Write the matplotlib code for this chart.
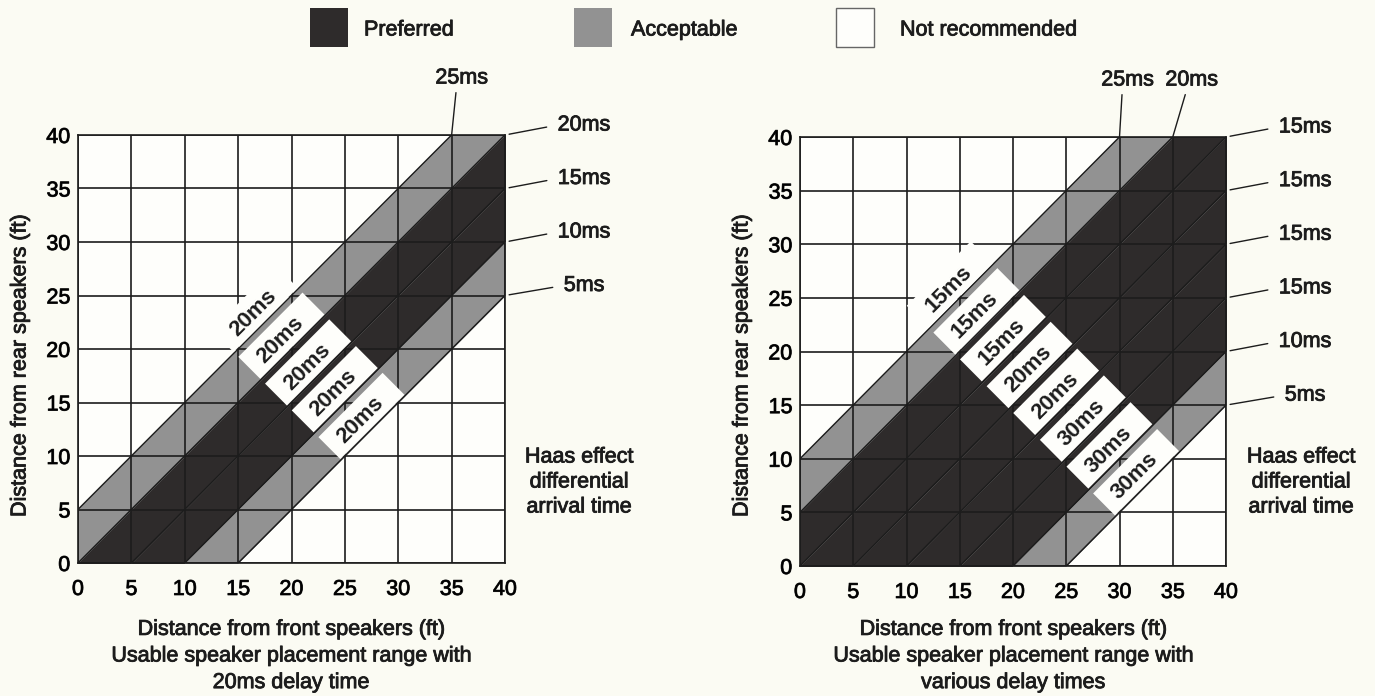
"""Haas effect speaker placement chart: two panels with diagonal delay bands."""

import numpy as np
import matplotlib

matplotlib.use("Agg")
import matplotlib.pyplot as plt
import matplotlib.patheffects as pe
from matplotlib.patches import Polygon, Rectangle

# --- data ------------------------------------------------------------------
ticks = [0, 5, 10, 15, 20, 25, 30, 35, 40]

# boundary lines y = x + c (ft), listed from upper-left to lower-right
left_offsets = [5, 0, -5, -10, -15]
left_bands = ["Acceptable", "Preferred", "Preferred", "Acceptable"]
left_edge_labels = ["25ms", "20ms", "15ms", "10ms", "5ms"]
left_stack_labels = ["20ms", "20ms", "20ms", "20ms", "20ms"]

right_offsets = [10, 5, 0, -5, -10, -15, -20, -25]
right_bands = ["Acceptable", "Preferred", "Preferred", "Preferred",
               "Preferred", "Preferred", "Acceptable"]
right_edge_labels = ["25ms", "20ms", "15ms", "15ms", "15ms", "15ms", "10ms", "5ms"]
right_stack_labels = ["15ms", "15ms", "15ms", "20ms", "20ms", "30ms", "30ms", "30ms"]

left_caption = "Distance from front speakers (ft)\nUsable speaker placement range with\n20ms delay time"
right_caption = "Distance from front speakers (ft)\nUsable speaker placement range with\nvarious delay times"
ylabel = "Distance from rear speakers (ft)"
side_note = "Haas effect\ndifferential\narrival time"

legend_labels = ["Preferred", "Acceptable", "Not recommended"]

# --- style -----------------------------------------------------------------
W, H = 1375, 696
BG = "#FBFBF3"
INK = "#1c1c1c"
FILL = {"Preferred": "#2e2b2b", "Acceptable": "#929292", "Not recommended": "#FEFEFB"}
FS = 15.5
HEAVY = [pe.withStroke(linewidth=0.6, foreground=INK)]

plt.rcParams["font.family"] = ["Liberation Sans", "DejaVu Sans"]


def fx(px):
    return px / W


def fy(py):
    return 1 - py / H


def draw_panel(ax, offsets, bands, edge_labels, stack_labels, top_dx):
    ax.set_xlim(0, 40)
    ax.set_ylim(0, 40)
    ax.set_facecolor("#FEFEFB")
    ax.set_xticks(ticks)
    ax.set_yticks(ticks)
    ax.tick_params(length=0, labelsize=FS)
    ax.tick_params(axis="x", pad=11.5)
    ax.tick_params(axis="y", pad=5.5)
    for t in ax.get_xticklabels() + ax.get_yticklabels():
        t.set_path_effects(HEAVY)
    ax.grid(True, color=INK, lw=1.2)
    ax.set_axisbelow("line")
    for sp in ax.spines.values():
        sp.set_color(INK)
        sp.set_linewidth(1.2)

    xs = np.array([-5.0, 45.0])
    for hi, lo, kind in zip(offsets[:-1], offsets[1:], bands):
        ax.fill_between(xs, xs + lo, xs + hi, color=FILL[kind], lw=0, zorder=1)
    for c in offsets:
        ax.plot(xs, xs + c, color=INK, lw=1.1, zorder=2)

    # white label boxes stacked across the bands, text sitting on each line
    u = np.array([1.0, 1.0]) / np.sqrt(2)
    v = np.array([-1.0, 1.0]) / np.sqrt(2)
    s_mid, s0, s1, p0, p1, pt = 39.8, -3.9, 4.6, 0.1, 3.0, 1.35
    for c, lab in zip(offsets, stack_labels):
        base = np.array([(s_mid - c) / 2, (s_mid + c) / 2])
        corners = [base + s * u + p * v for s, p in ((s0, p0), (s1, p0), (s1, p1), (s0, p1))]
        ax.add_patch(Polygon(corners, closed=True, facecolor="#FEFEFB", edgecolor="none", zorder=4))
        tx, ty = base + pt * v
        ax.text(tx, ty, lab, rotation=45, rotation_mode="anchor", ha="center", va="center",
                fontsize=16, fontweight="bold", color=INK, zorder=5)

    # edge labels with short leader lines
    k = 0
    for c, lab in zip(offsets, edge_labels):
        if c > 0:
            ax.annotate(lab, xy=(40 - c, 40), xytext=(top_dx[k], 57), textcoords="offset pixels",
                        ha="center", va="center", fontsize=FS, color=INK, annotation_clip=False,
                        path_effects=HEAVY,
                        arrowprops=dict(arrowstyle="-", color=INK, lw=1.0, relpos=(0.4, 0.0),
                                        shrinkA=1, shrinkB=0))
            k += 1
        else:
            ax.annotate(lab, xy=(40, 40 + c), xytext=(79, 10), textcoords="offset pixels",
                        ha="center", va="center", fontsize=FS, color=INK, annotation_clip=False,
                        path_effects=HEAVY,
                        arrowprops=dict(arrowstyle="-", color=INK, lw=1.0, relpos=(0.0, 0.5),
                                        shrinkA=6, shrinkB=3))


fig = plt.figure(figsize=(W / 100, H / 100), dpi=100, facecolor=BG)

ax1 = fig.add_axes([fx(78), fy(563), 427 / W, 428 / H])
draw_panel(ax1, left_offsets, left_bands, left_edge_labels, left_stack_labels, top_dx=[10])

ax2 = fig.add_axes([fx(800), fy(566), 426 / W, 429 / H])
draw_panel(ax2, right_offsets, right_bands, right_edge_labels, right_stack_labels, top_dx=[8, 19])

for xc, cap in ((291, left_caption), (1013, right_caption)):
    fig.text(fx(xc), fy(656), cap, ha="center", va="center", fontsize=FS, color=INK,
             linespacing=1.35, path_effects=HEAVY)
for xc in (579, 1301):
    fig.text(fx(xc), fy(482), side_note, ha="center", va="center", fontsize=FS, color=INK,
             linespacing=1.25, path_effects=HEAVY)
for xc in (20, 742):
    fig.text(fx(xc), fy(366), ylabel, rotation=90, ha="center", va="center", fontsize=FS,
             color=INK, path_effects=HEAVY)

# legend along the top
for px, tx, lab in zip((310, 574, 836), (364, 631, 900), legend_labels):
    edge = "#666666" if lab == "Not recommended" else "none"
    fig.add_artist(Rectangle((fx(px), fy(47)), 38 / W, 39 / H, transform=fig.transFigure,
                             facecolor=FILL[lab], edgecolor=edge, lw=1.0))
    fig.text(fx(tx), fy(30), lab, ha="left", va="center", fontsize=FS, color=INK, path_effects=HEAVY)

fig.savefig("out.png", dpi=100, facecolor=BG)
